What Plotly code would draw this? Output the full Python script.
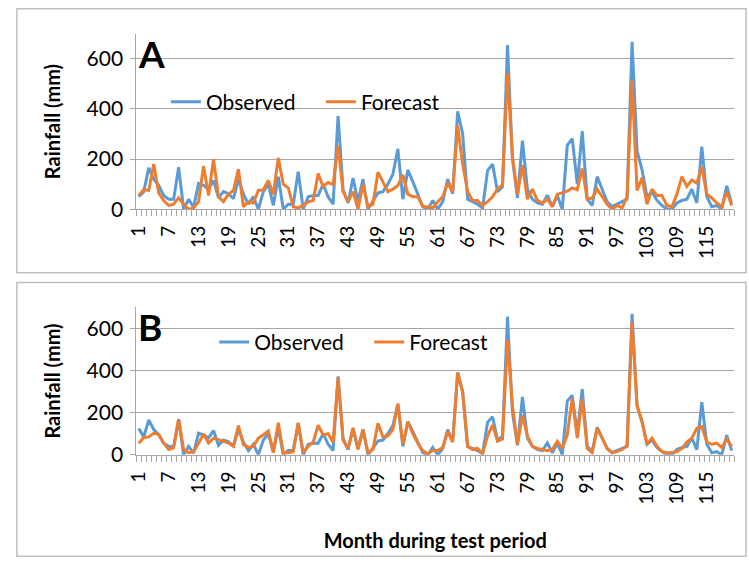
import plotly.graph_objects as go

months = list(range(1, 121))
tick_vals = list(range(1, 121, 6))
tick_text = [str(v) for v in tick_vals]

observed_b = [125, 85, 165, 120, 95, 55, 40, 40, 168, 0,
              40, 8, 103, 95, 80, 115, 45, 70, 62, 42,
              120, 60, 20, 50, 0, 70, 100, 15, 130, 0,
              20, 20, 150, 0, 50, 55, 55, 100, 50, 20,
              372, 78, 25, 124, 30, 120, 0, 30, 65, 70,
              100, 140, 241, 40, 157, 110, 60, 10, 0, 35,
              0, 30, 120, 62, 391, 300, 40, 30, 20, 5,
              154, 180, 70, 89, 655, 200, 45, 274, 79, 40,
              25, 20, 56, 10, 55, 0, 255, 282, 100, 312,
              40, 15, 130, 80, 30, 10, 20, 30, 40, 668,
              234, 157, 50, 70, 35, 15, 0, 0, 25, 35,
              40, 80, 25, 250, 50, 10, 15, 0, 93, 20]

observed_a = [50, 70] + observed_b[2:]

forecast_a = [55, 78, 75, 180, 65, 35, 15, 20, 45, 20,
              0, 5, 30, 172, 55, 200, 50, 30, 60, 75,
              160, 10, 30, 25, 75, 78, 115, 60, 205, 100,
              85, 10, 5, 15, 30, 35, 142, 90, 107, 98,
              254, 70, 30, 70, 0, 98, 10, 20, 148, 110,
              70, 80, 95, 137, 60, 50, 50, 10, 10, 5,
              30, 50, 105, 70, 333, 180, 70, 35, 35, 15,
              30, 50, 80, 98, 541, 210, 60, 176, 40, 80,
              35, 25, 40, 10, 60, 65, 72, 85, 78, 163,
              40, 45, 80, 50, 20, 0, 15, 5, 50, 515,
              75, 125, 20, 80, 55, 55, 15, 10, 60, 130,
              91, 117, 104, 169, 60, 45, 25, 10, 70, 15]

forecast_b = [55, 82, 85, 102, 97, 56, 25, 33, 169, 25,
              10, 15, 55, 97, 56, 79, 72, 64, 56, 40,
              138, 48, 35, 40, 79, 95, 113, 10, 152, 10,
              10, 15, 152, 10, 40, 60, 140, 95, 100, 60,
              366, 70, 30, 128, 25, 120, 10, 25, 149, 85,
              90, 120, 242, 50, 157, 100, 55, 20, 5, 20,
              20, 35, 110, 60, 389, 296, 40, 25, 30, 5,
              90, 141, 65, 75, 544, 230, 50, 188, 89, 40,
              30, 25, 20, 25, 64, 30, 95, 268, 79, 265,
              30, 10, 126, 79, 30, 10, 15, 25, 45, 630,
              234, 157, 50, 79, 40, 15, 10, 10, 15, 30,
              60, 79, 126, 134, 60, 50, 55, 35, 75, 40]

BLUE = "#5B9BD5"
ORANGE = "#ED7D31"
GRID = "#A6A6A6"
FONT = "Lato"
W, H = 749, 574

def px_x(p):
    return p / W

def px_y(p):
    return 1 - p / H

fig = go.Figure()
fig.add_trace(go.Scatter(x=months, y=observed_a, mode="lines", name="Observed",
                         line=dict(color=BLUE, width=3), xaxis="x", yaxis="y", legend="legend"))
fig.add_trace(go.Scatter(x=months, y=forecast_a, mode="lines", name="Forecast",
                         line=dict(color=ORANGE, width=3), xaxis="x", yaxis="y", legend="legend"))
fig.add_trace(go.Scatter(x=months, y=observed_b, mode="lines", name="Observed",
                         line=dict(color=BLUE, width=3), xaxis="x2", yaxis="y2", legend="legend2"))
fig.add_trace(go.Scatter(x=months, y=forecast_b, mode="lines", name="Forecast",
                         line=dict(color=ORANGE, width=3), xaxis="x2", yaxis="y2", legend="legend2"))

xdom = [px_x(128), px_x(734)]

def xaxis_cfg(anchor, title=None):
    d = dict(domain=xdom, anchor=anchor, range=[0.5, 120.5],
             tickmode="array", tickvals=tick_vals, ticktext=tick_text,
             tickangle=-90, ticks="", showgrid=False, zeroline=False,
             showline=True, linecolor=GRID, linewidth=1,
             tickfont=dict(family=FONT, size=19, color="#000"),
             ticklabelstandoff=8,
             minor=dict(ticks="outside", tick0=0.5, dtick=1, ticklen=6,
                        tickcolor=GRID, tickwidth=1, showgrid=False))
    if title:
        d["title"] = dict(text=title, font=dict(family=FONT, size=20, color="#000", weight="bold"), standoff=30)
    return d

def yaxis_cfg(anchor, domain):
    return dict(domain=domain, anchor=anchor, range=[0, 700],
                tickvals=[0, 200, 400, 600], showgrid=True, gridcolor=GRID, gridwidth=1,
                zeroline=False, showline=True, linecolor=GRID, linewidth=1,
                ticks="outside", ticklen=5, tickcolor=GRID,
                tickfont=dict(family=FONT, size=21, color="#000"),
                ticklabelstandoff=3,
                title=dict(text="Rainfall (mm)", font=dict(family=FONT, size=20, color="#000", weight="bold"), standoff=20))

legend_common = dict(orientation="h", xanchor="left", yanchor="middle",
                     font=dict(family=FONT, size=21, color="#000"), bgcolor="rgba(0,0,0,0)",
                     entrywidth=110, entrywidthmode="pixels")

fig.update_layout(
    width=W, height=H, margin=dict(l=0, r=0, t=0, b=0),
    paper_bgcolor="white", plot_bgcolor="white",
    xaxis=xaxis_cfg("y"),
    yaxis=yaxis_cfg("x", [px_y(213.3), px_y(34.5)]),
    xaxis2=xaxis_cfg("y2", "Month during test period"),
    yaxis2=yaxis_cfg("x2", [px_y(463.7), px_y(313.2)]),
    legend=dict(x=px_x(158), y=px_y(104), **legend_common),
    legend2=dict(x=px_x(207), y=px_y(349), **legend_common),
    shapes=[
        dict(type="rect", xref="paper", yref="paper", x0=px_x(7), x1=px_x(746), y0=px_y(278), y1=px_y(9),
             line=dict(color="#BFBFBF", width=1.5)),
        dict(type="rect", xref="paper", yref="paper", x0=px_x(7), x1=px_x(746), y0=px_y(567), y1=px_y(288),
             line=dict(color="#BFBFBF", width=1.5)),
    ],
    annotations=[
        dict(text="A", xref="paper", yref="paper", x=px_x(143), y=px_y(55), showarrow=False,
             xanchor="center", yanchor="middle",
             font=dict(family=FONT, size=37, color="#000", weight="bold")),
        dict(text="B", xref="paper", yref="paper", x=px_x(142), y=px_y(333), showarrow=False,
             xanchor="center", yanchor="middle",
             font=dict(family=FONT, size=37, color="#000", weight="bold")),
    ],
)

fig.write_html("out.html")
